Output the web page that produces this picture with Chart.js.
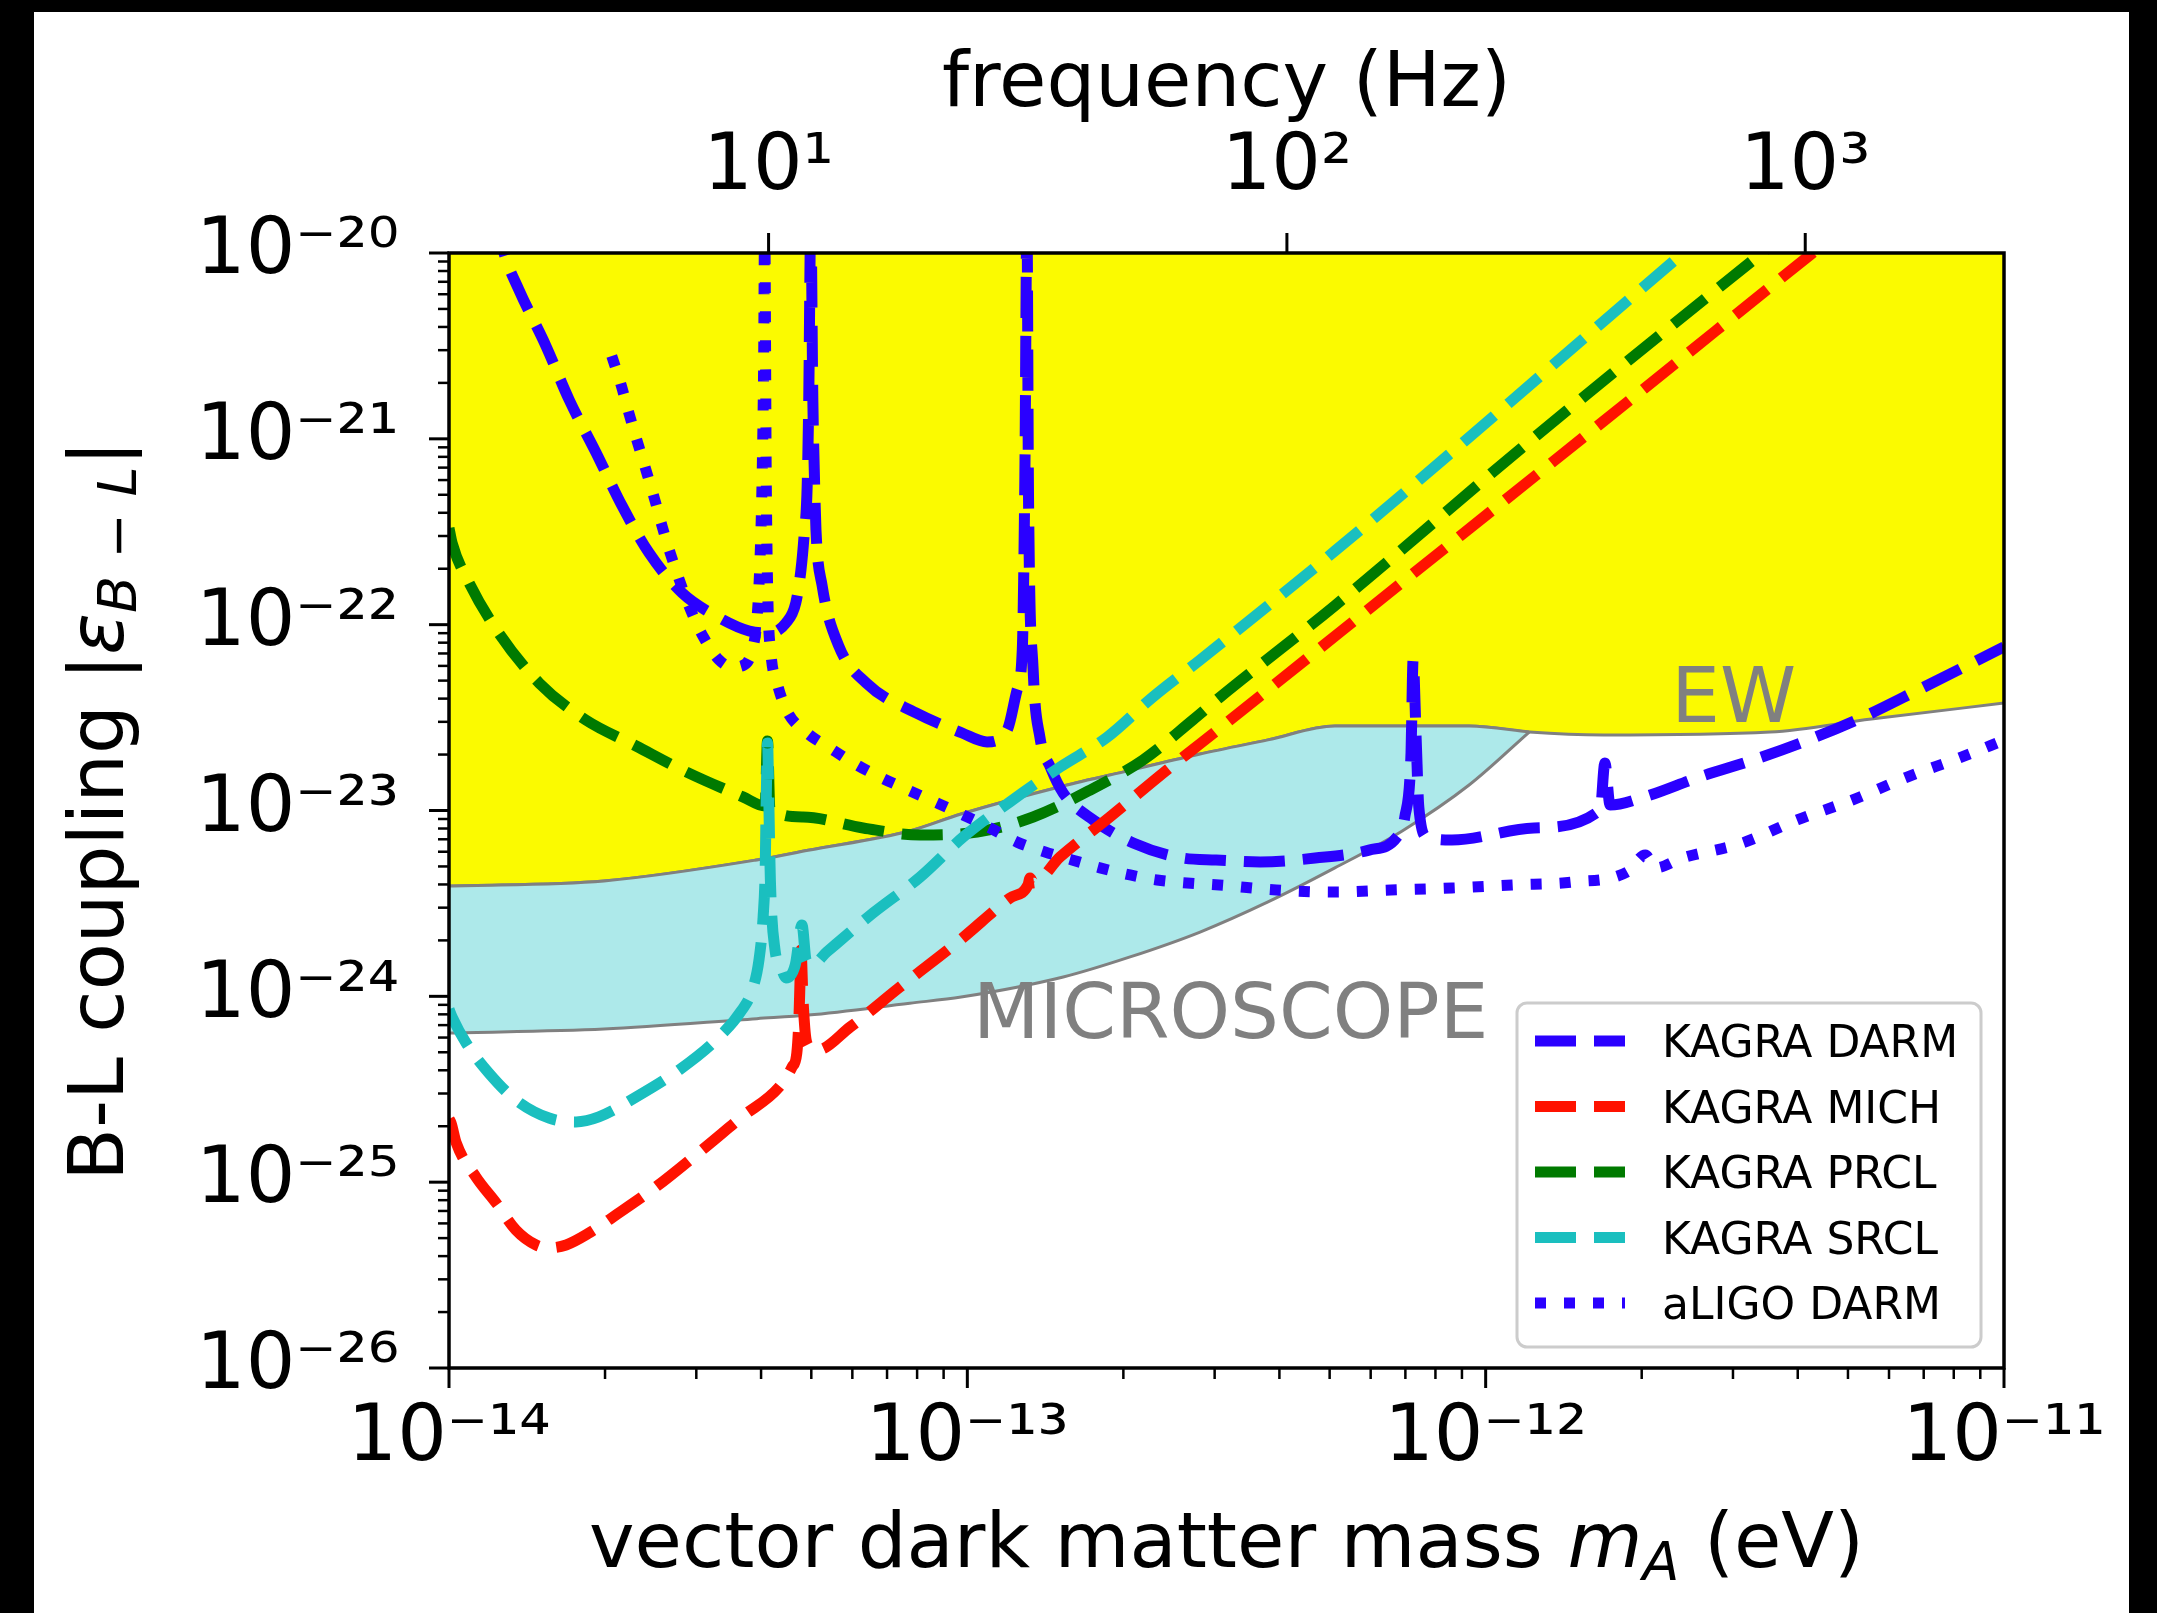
<!DOCTYPE html>
<html>
<head>
<meta charset="utf-8">
<script src="https://cdn.jsdelivr.net/npm/chart.js@4.4.1/dist/chart.umd.min.js"></script>
<style>
  html, body { margin: 0; padding: 0; background: #000; }
  #wrap { width: 2157px; height: 1613px; }
</style>
</head>
<body>
<div id="wrap"><canvas id="chart" width="2157" height="1613"></canvas></div>
<script>
// everything read off a log-log plot, so values are kept as log10 exponents
// mass in eV, coupling is |eps_B-L|

const darmMassExp = [-13.911, -13.894, -13.865, -13.813, -13.768, -13.716, -13.666, -13.614, -13.550, -13.485,
  -13.421, -13.383, -13.350, -13.331, -13.321, -13.315, -13.309, -13.306, -13.302, -13.298,
  -13.295, -13.292, -13.280, -13.248, -13.195, -13.099, -13.010, -12.962, -12.923, -12.904,
  -12.894, -12.889, -12.885, -12.882, -12.873, -12.860, -12.840, -12.815, -12.757, -12.680,
  -12.584, -12.520, -12.435, -12.329, -12.225, -12.171, -12.156, -12.144, -12.140, -12.134,
  -12.129, -12.113, -12.065, -11.907, -11.779, -11.770, -11.760, -11.694, -11.588, -11.484,
  -11.378, -11.272, -11.166, -11.000];
const darmCouplingExp = [-19.8, -20.000, -20.199, -20.500, -20.791, -21.076, -21.361, -21.614, -21.830, -21.953,
  -22.034, -22.045, -21.991, -21.883, -21.706, -21.523, -21.254, -20.800, -19.800, -20.800,
  -21.200, -21.491, -21.792, -22.115, -22.314, -22.475, -22.583, -22.631, -22.567, -22.352,
  -22.136, -21.200, -19.800, -21.300, -22.244, -22.605, -22.766, -22.906, -23.051, -23.175,
  -23.256, -23.266, -23.277, -23.256, -23.213, -23.143, -23.035, -22.691, -22.190, -22.620,
  -22.981, -23.143, -23.159, -23.094, -22.997, -22.744, -22.970, -22.927, -22.820, -22.728,
  -22.621, -22.497, -22.352, -22.120];

const michMassExp = [-14.000, -13.996, -13.986, -13.948, -13.909, -13.871, -13.832, -13.807, -13.774, -13.730,
  -13.678, -13.601, -13.512, -13.435, -13.363, -13.338, -13.329, -13.325, -13.323, -13.321,
  -13.317, -13.311, -13.303, -13.290, -13.226, -13.130, -13.014, -12.918, -12.883, -12.879,
  -12.873, -12.821, -12.725, -12.615, -12.549, -12.161, -11.773, -11.374, -11.336];
const michCouplingExp = [-24.660, -24.682, -24.789, -24.972, -25.112, -25.257, -25.338, -25.354, -25.338, -25.274,
  -25.177, -25.026, -24.827, -24.649, -24.488, -24.380, -24.305, -24.127, -23.939, -23.751,
  -24.020, -24.235, -24.273, -24.289, -24.165, -23.950, -23.697, -23.471, -23.401, -23.363,
  -23.390, -23.250, -23.035, -22.782, -22.637, -21.772, -20.906, -20.010, -19.925];

const prclMassExp = [-14.000, -13.994, -13.961, -13.904, -13.826, -13.736, -13.639, -13.550, -13.433, -13.390,
  -13.3855, -13.381, -13.317, -13.201, -13.091, -12.981, -12.873, -12.763, -12.661, -12.565,
  -12.512, -12.291, -11.903, -11.467, -11.400];
const prclCouplingExp = [-21.480, -21.561, -21.776, -22.045, -22.314, -22.513, -22.653, -22.782, -22.927, -22.976,
  -22.626, -22.987, -23.035, -23.094, -23.132, -23.116, -23.035, -22.890, -22.728, -22.513,
  -22.389, -21.898, -20.985, -20.000, -19.850];

const srclMassExp = [-14.000, -13.994, -13.967, -13.923, -13.871, -13.807, -13.755, -13.711, -13.639, -13.556,
  -13.485, -13.435, -13.415, -13.402, -13.394, -13.390, -13.388, -13.3855, -13.383, -13.380,
  -13.371, -13.361, -13.350, -13.332, -13.319, -13.311, -13.300, -13.271, -13.182, -13.091,
  -13.008, -12.918, -12.821, -12.730, -12.642, -12.551, -12.291, -11.619, -11.560];
const srclCouplingExp = [-24.070, -24.111, -24.251, -24.413, -24.558, -24.655, -24.676, -24.649, -24.542, -24.396,
  -24.235, -24.074, -23.966, -23.805, -23.573, -23.320, -22.944, -22.637, -22.944, -23.374,
  -23.751, -23.831, -23.901, -23.831, -23.616, -23.805, -23.831, -23.761, -23.552, -23.358,
  -23.143, -22.954, -22.766, -22.605, -22.389, -22.190, -21.604, -20.000, -19.860];

const aligoMassExp = [-13.686, -13.668, -13.653, -13.637, -13.620, -13.604, -13.589, -13.572, -13.533, -13.508,
  -13.479, -13.454, -13.431, -13.415, -13.406, -13.400, -13.396, -13.393, -13.391, -13.388,
  -13.385, -13.379, -13.367, -13.348, -13.309, -13.265, -13.213, -13.165, -13.114, -13.058,
  -13.008, -12.956, -12.904, -12.850, -12.798, -12.744, -12.686, -12.634, -12.576, -12.514,
  -12.404, -12.289, -12.183, -12.065, -11.949, -11.833, -11.727, -11.692, -11.673, -11.621,
  -11.505, -11.399, -11.293, -11.187, -11.081, -11.000];
const aligoCouplingExp = [-20.554, -20.710, -20.861, -21.012, -21.168, -21.318, -21.469, -21.625, -21.926, -22.072,
  -22.190, -22.228, -22.217, -22.136, -21.975, -21.652, -21.222, -20.600, -19.800, -21.200,
  -21.840, -22.152, -22.314, -22.465, -22.583, -22.664, -22.755, -22.825, -22.890, -22.960,
  -23.024, -23.094, -23.170, -23.223, -23.266, -23.309, -23.347, -23.374, -23.390, -23.401,
  -23.428, -23.439, -23.428, -23.417, -23.401, -23.385, -23.331, -23.240, -23.309, -23.256,
  -23.175, -23.051, -22.944, -22.820, -22.712, -22.621];

// excluded regions
const ewMassExp = [-14.000, -13.701, -13.406, -13.307, -13.111, -13.012, -12.815, -12.686, -12.551, -12.420,
  -12.291, -12.161, -12.032, -11.916, -11.773, -11.451, -11.256, -11.000];
const ewCouplingExp = [-23.406, -23.379, -23.266, -23.214, -23.110, -23.019, -22.868, -22.784, -22.696, -22.620,
  -22.545, -22.545, -22.545, -22.578, -22.594, -22.578, -22.508, -22.422];
const microMassExp = [-14.000, -13.701, -13.406, -13.307, -13.111, -13.012, -12.815, -12.686, -12.551, -12.420,
  -12.291, -12.161, -12.032, -11.916];
const microUpperExp = [-23.406, -23.379, -23.266, -23.214, -23.110, -23.019, -22.868, -22.784, -22.696, -22.620,
  -22.545, -22.545, -22.545, -22.578];
const microLowerExp = [-24.197, -24.176, -24.120, -24.101, -24.037, -24.004, -23.896, -23.788, -23.654, -23.492,
  -23.309, -23.110, -22.863, -22.578];

const massTicks = [1e-14, 1e-13, 1e-12, 1e-11];
const couplingTicks = [1e-26, 1e-25, 1e-24, 1e-23, 1e-22, 1e-21, 1e-20];
const freqTicks = [10, 100, 1000];
const EV_TO_HZ = 2.418e14;

const seriesNames = ['KAGRA DARM', 'KAGRA MICH', 'KAGRA PRCL', 'KAGRA SRCL', 'aLIGO DARM'];
const regionNames = ['EW', 'MICROSCOPE'];
const regionNameMassExp = [-11.642, -12.989];
const regionNameCouplingExp = [-22.524, -24.224];

const FONT = "'DejaVu Sans', 'Liberation Sans', sans-serif";
const BLUE = '#2a00ff', RED = '#ff1200', GREEN = '#007a00', CYAN = '#1abfbf';
const YELLOW = '#fbfa00', PALE_CYAN = '#ade9ea', GRAY = '#808080';
const DASHED = [41, 18], DOTTED = [11, 18];

const SUP = {'-': '\u207B', '0': '\u2070', '1': '\u00B9', '2': '\u00B2', '3': '\u00B3',
  '4': '\u2074', '5': '\u2075', '6': '\u2076', '7': '\u2077', '8': '\u2078', '9': '\u2079'};
function powLabel(v) {
  const e = Math.round(Math.log10(v));
  return '10' + String(e).split('').map(c => SUP[c]).join('');
}

function toPoints(ms, cs) {
  return ms.map((m, i) => ({x: Math.pow(10, m), y: Math.pow(10, cs[i])}));
}

function curve(label, ms, cs, color, dash, order) {
  return {
    label: label,
    data: toPoints(ms, cs),
    borderColor: color,
    backgroundColor: color,
    borderWidth: 11,
    borderDash: dash,
    borderCapStyle: 'butt',
    borderJoinStyle: 'round',
    pointRadius: 0,
    fill: false,
    cubicInterpolationMode: 'monotone',
    clip: 0,
    order: order,
    xAxisID: 'x',
    yAxisID: 'y'
  };
}

function boundary(label, ms, cs, fill, bg, order) {
  return {
    label: label,
    data: toPoints(ms, cs),
    borderColor: GRAY,
    borderWidth: 3,
    backgroundColor: bg,
    pointRadius: 0,
    fill: fill,
    cubicInterpolationMode: 'monotone',
    clip: 0,
    order: order,
    xAxisID: 'x',
    yAxisID: 'y'
  };
}

const datasets = [
  curve(seriesNames[0], darmMassExp, darmCouplingExp, BLUE, DASHED, 5),
  curve(seriesNames[1], michMassExp, michCouplingExp, RED, DASHED, 4),
  curve(seriesNames[2], prclMassExp, prclCouplingExp, GREEN, DASHED, 3),
  curve(seriesNames[3], srclMassExp, srclCouplingExp, CYAN, DASHED, 2),
  curve(seriesNames[4], aligoMassExp, aligoCouplingExp, BLUE, DOTTED, 1),
  boundary('EW', ewMassExp, ewCouplingExp, 'end', YELLOW, 8),
  boundary('MICROSCOPE upper', microMassExp, microUpperExp, false, 'transparent', 6),
  boundary('MICROSCOPE', microMassExp, microLowerExp, '-1', PALE_CYAN, 7)
];

// black frame around the white figure
const pageBg = {
  id: 'pageBg',
  beforeDraw(chart) {
    const ctx = chart.ctx;
    ctx.save();
    ctx.fillStyle = '#000';
    ctx.fillRect(0, 0, chart.width, chart.height);
    ctx.fillStyle = '#fff';
    ctx.fillRect(34, 12, 2129 - 34, chart.height - 12);
    ctx.restore();
  }
};

// spines, outward tick marks and the region names
const axesDeco = {
  id: 'axesDeco',
  afterDatasetsDraw(chart) {
    const ctx = chart.ctx;
    const a = chart.chartArea;
    const xs = chart.scales.x, ys = chart.scales.y, fs = chart.scales.freq;
    ctx.save();

    ctx.fillStyle = GRAY;
    ctx.font = '77px ' + FONT;
    ctx.textBaseline = 'alphabetic';
    ctx.textAlign = 'left';
    regionNames.forEach((t, i) => {
      ctx.fillText(t, xs.getPixelForValue(Math.pow(10, regionNameMassExp[i])),
        ys.getPixelForValue(Math.pow(10, regionNameCouplingExp[i])));
    });

    ctx.strokeStyle = '#000';
    ctx.lineWidth = 3.5;
    ctx.strokeRect(a.left, a.top, a.right - a.left, a.bottom - a.top);

    function tick(x1, y1, x2, y2, w) {
      ctx.lineWidth = w;
      ctx.beginPath();
      ctx.moveTo(x1, y1);
      ctx.lineTo(x2, y2);
      ctx.stroke();
    }
    for (let e = -14; e < -11; e++) {
      for (let k = 2; k <= 9; k++) {
        const px = xs.getPixelForValue(k * Math.pow(10, e));
        tick(px, a.bottom, px, a.bottom + 11, 2.5);
      }
    }
    massTicks.forEach(v => {
      const px = xs.getPixelForValue(v);
      tick(px, a.bottom, px, a.bottom + 20, 3);
    });
    for (let e = -26; e < -20; e++) {
      for (let k = 2; k <= 9; k++) {
        const py = ys.getPixelForValue(k * Math.pow(10, e));
        tick(a.left - 11, py, a.left, py, 2.5);
      }
    }
    couplingTicks.forEach(v => {
      const py = ys.getPixelForValue(v);
      tick(a.left - 20, py, a.left, py, 3);
    });
    freqTicks.forEach(v => {
      const px = fs.getPixelForValue(v);
      tick(px, a.top - 20, px, a.top, 3);
    });
    ctx.restore();
  }
};

function drawRuns(ctx, runs, x, y, rot) {
  ctx.save();
  ctx.translate(x, y);
  ctx.rotate(rot);
  ctx.textBaseline = 'alphabetic';
  ctx.textAlign = 'left';
  ctx.fillStyle = '#000';
  let total = 0;
  runs.forEach(r => { ctx.font = r.font; r.w = ctx.measureText(r.text).width; total += r.w; });
  let cx = -total / 2;
  runs.forEach(r => { ctx.font = r.font; ctx.fillText(r.text, cx, r.dy || 0); cx += r.w; });
  ctx.restore();
}

// axis titles with sub-scripts, and the legend box
const titlesAndLegend = {
  id: 'titlesAndLegend',
  afterDraw(chart) {
    const ctx = chart.ctx;
    const a = chart.chartArea;
    const big = '77px ' + FONT, bigIt = 'italic 77px ' + FONT, subIt = 'italic 54px ' + FONT;

    drawRuns(ctx, [
      {text: 'B-L coupling ', font: big},
      {text: '|', font: big},
      {text: '\u03B5', font: bigIt},
      {text: 'B', font: subIt, dy: 13},
      {text: ' \u2212 ', font: '54px ' + FONT, dy: 13},
      {text: 'L', font: subIt, dy: 13},
      {text: '|', font: big}
    ], 123, (a.top + a.bottom) / 2, -Math.PI / 2);

    drawRuns(ctx, [
      {text: 'vector dark matter mass ', font: big},
      {text: 'm', font: bigIt},
      {text: 'A', font: subIt, dy: 13},
      {text: ' (eV)', font: big}
    ], (a.left + a.right) / 2, 1567, 0);

    // legend
    const box = {x: 1517, y: 1003, w: 464, h: 344};
    ctx.save();
    ctx.fillStyle = '#fff';
    ctx.strokeStyle = '#cccccc';
    ctx.lineWidth = 3;
    ctx.beginPath();
    ctx.roundRect(box.x, box.y, box.w, box.h, 10);
    ctx.fill();
    ctx.stroke();
    ctx.font = '44px ' + FONT;
    ctx.textBaseline = 'alphabetic';
    ctx.textAlign = 'left';
    for (let i = 0; i < seriesNames.length; i++) {
      const ds = chart.data.datasets[i];
      const yc = 1041 + i * 65.5;
      ctx.strokeStyle = ds.borderColor;
      ctx.lineWidth = 11;
      ctx.lineCap = 'butt';
      ctx.setLineDash(ds.borderDash);
      ctx.beginPath();
      ctx.moveTo(1535, yc);
      ctx.lineTo(1625, yc);
      ctx.stroke();
      ctx.setLineDash([]);
      ctx.fillStyle = '#000';
      ctx.fillText(seriesNames[i], 1662, yc + 16);
    }
    ctx.restore();
  }
};

const tickFont = {family: FONT, size: 78};

new Chart(document.getElementById('chart'), {
  type: 'line',
  data: {datasets: datasets},
  options: {
    responsive: false,
    animation: false,
    devicePixelRatio: 1,
    layout: {padding: {left: 0, right: 153, top: 0, bottom: 0}},
    plugins: {
      legend: {display: false},
      tooltip: {enabled: false}
    },
    scales: {
      x: {
        type: 'logarithmic',
        position: 'bottom',
        min: 1e-14,
        max: 1e-11,
        afterBuildTicks: s => { s.ticks = massTicks.map(v => ({value: v, major: true})); },
        afterFit: s => { s.height = 245; },
        grid: {display: false, drawTicks: false},
        border: {display: false},
        ticks: {autoSkip: false, maxRotation: 0, padding: 25, color: '#000', font: tickFont, callback: v => powLabel(v)}
      },
      y: {
        type: 'logarithmic',
        position: 'left',
        min: 1e-26,
        max: 1e-20,
        afterBuildTicks: s => { s.ticks = couplingTicks.map(v => ({value: v, major: true})); },
        afterFit: s => { s.width = 449; },
        grid: {display: false, drawTicks: false},
        border: {display: false},
        ticks: {autoSkip: false, padding: 50, color: '#000', font: tickFont, callback: v => powLabel(v)}
      },
      freq: {
        type: 'logarithmic',
        position: 'top',
        display: true,
        min: 1e-14 * EV_TO_HZ,
        max: 1e-11 * EV_TO_HZ,
        afterBuildTicks: s => { s.ticks = freqTicks.map(v => ({value: v, major: true})); },
        afterFit: s => { s.height = 253; },
        grid: {display: false, drawTicks: false},
        border: {display: false},
        title: {display: true, text: 'frequency (Hz)', color: '#000', font: {family: FONT, size: 77}, padding: {top: 40, bottom: 0}},
        ticks: {autoSkip: false, maxRotation: 0, padding: 37, color: '#000', font: tickFont, callback: v => powLabel(v)}
      }
    }
  },
  plugins: [pageBg, axesDeco, titlesAndLegend]
});
</script>
</body>
</html>
